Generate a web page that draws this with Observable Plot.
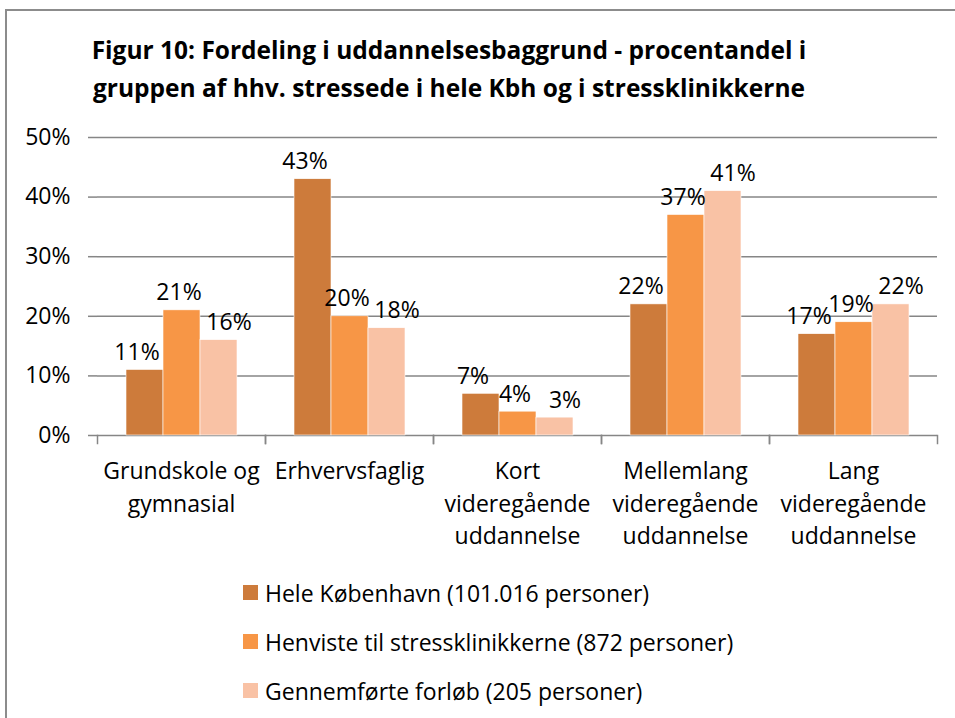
<!DOCTYPE html>
<html><head><meta charset="utf-8">
<script src="https://cdn.jsdelivr.net/npm/d3@7"></script>
<script src="https://cdn.jsdelivr.net/npm/@observablehq/plot@0.6"></script>
<style>
body{margin:0;background:#fff;font-family:"Open Sans",sans-serif;width:955px;height:718px;overflow:hidden;position:relative;}
#frame{position:absolute;left:5px;top:9px;width:1000px;height:800px;border-left:2px solid #8c8c8c;border-top:2px solid #8c8c8c;}
#title{position:absolute;left:0;width:898px;top:31px;text-align:center;font-weight:bold;font-size:24.5px;line-height:38px;color:#000}
#chart{position:absolute;left:0;top:110px}
#legend{position:absolute;left:243px;top:568px;}
.item{display:flex;align-items:center;height:49px;font-size:23px;color:#000}
.sw{width:15px;height:15px;margin-right:7px}
</style>
</head><body>
<div id="frame"></div>
<div id="title">Figur 10: Fordeling i uddannelsesbaggrund - procentandel i<br>gruppen af hhv. stressede i hele Kbh og i stressklinikkerne</div>
<div id="chart"></div>
<div id="legend"></div>
<script>
const categories = ["Grundskole og\ngymnasial","Erhvervsfaglig","Kort\nvideregående\nuddannelse","Mellemlang\nvideregående\nuddannelse","Lang\nvideregående\nuddannelse"];
const seriesNames = ["Hele København (101.016 personer)","Henviste til stressklinikkerne (872 personer)","Gennemførte forløb (205 personer)"];
const heleKbh = [11,43,7,22,17];
const henviste = [21,20,4,37,19];
const gennemfoerte = [16,18,3,41,22];
const yTicks = [0,10,20,30,40,50];
const colors = ["#CD7B3B","#F79646","#F9C2A5"];

const seriesValues = [heleKbh, henviste, gennemfoerte];
const data = [];
categories.forEach((c,i)=>{ seriesValues.forEach((arr,k)=>data.push({category:c, series:seriesNames[k], value:arr[i]})); });

const W = 955, H = 460, mT = 27, mB = 135;
const plotH = H - mT - mB;
const labelDx = [-8,-3,10];
const gridColor = "#868686";

const chart = Plot.plot({
  width: W, height: H, marginTop: mT, marginBottom: mB, marginLeft: 96, marginRight: 18,
  style: {fontFamily: "'Open Sans', sans-serif", fontSize: "23px", color: "#000", background: "transparent"},
  fx: {domain: categories, padding: 0, label: null},
  x: {domain: seriesNames, paddingInner: 0, paddingOuter: 0.75, axis: null},
  y: {domain: [0,50], label: null},
  color: {domain: seriesNames, range: colors},
  marks: [
    Plot.gridY(yTicks, {stroke: gridColor, strokeOpacity: 1, strokeWidth: 1.5}),
    Plot.axisY(yTicks, {tickFormat: d => d + "%", tickSize: 9, tickPadding: 18, stroke: gridColor, strokeWidth: 1.5, line: true, label: null, fontSize: 23}),
    Plot.axisFx({anchor: "bottom", tickSize: 0, tickPadding: 21, fontSize: 23, lineHeight: 1.4, label: null}),
    Plot.frame({anchor: "left", insetTop: plotH, insetBottom: -8, stroke: gridColor, strokeWidth: 1.5}),
    Plot.frame({anchor: "right", insetTop: plotH, insetBottom: -8, stroke: gridColor, strokeWidth: 1.5}),
    Plot.barY(data, {fx: "category", x: "series", y: "value", fill: "series", stroke: "white", strokeWidth: 0.6}),
    ...[0,1,2].map(k => Plot.text(data.filter(d => d.series === seriesNames[k]), {fx: "category", x: "series", y: "value", text: d => d.value + "%", dy: -10, dx: labelDx[k], lineAnchor: "bottom", fontSize: 23, fill: "#000"}))
  ]
});
document.getElementById("chart").appendChild(chart);

const legend = document.getElementById("legend");
seriesNames.forEach((s,k) => {
  const item = document.createElement("div");
  item.className = "item";
  const sw = document.createElement("div");
  sw.className = "sw";
  sw.style.background = colors[k];
  const t = document.createElement("span");
  t.textContent = s;
  item.appendChild(sw); item.appendChild(t);
  legend.appendChild(item);
});
</script>
</body></html>
